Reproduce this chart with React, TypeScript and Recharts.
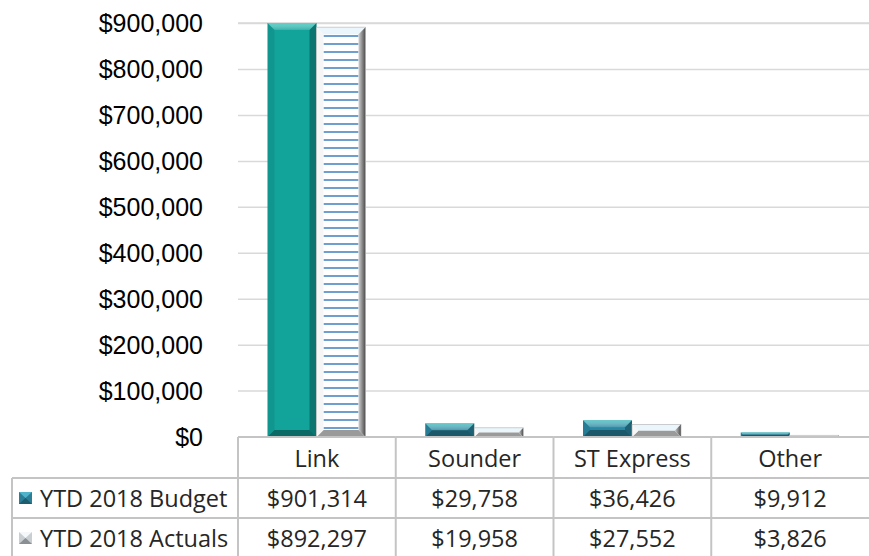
import React from "react";
import { Bar, BarChart, CartesianGrid, Cell, XAxis, YAxis } from "recharts";

const categories = ["Link", "Sounder", "ST Express", "Other"];
const budget = [901314, 29758, 36426, 9912];
const actuals = [892297, 19958, 27552, 3826];
const seriesNames = ["YTD 2018 Budget", "YTD 2018 Actuals"];
const yTicks = [0, 100000, 200000, 300000, 400000, 500000, 600000, 700000, 800000, 900000];

const data = categories.map((name, i) => ({ name, budget: budget[i], actuals: actuals[i] }));

const W = 869;
const H = 556;
const AXIS_W = 238;
const X_AXIS_H = 119;
const TABLE_TOP = H - X_AXIS_H;
const BAND = (W - AXIS_W) / categories.length;
const ROW1 = TABLE_TOP + 41;
const ROW2 = TABLE_TOP + 81;
const BORDER = "#c4c4c4";
const TABLE_FONT = "'Open Sans', sans-serif";

const money = (v: number) => "$" + v.toLocaleString("en-US");

const budgetColors = ["#12a39b", "#2a87a1", "#2a87a1", "#2a87a1"];

function BudgetShape(props: any) {
  const { x, y, width: w, height: h, index } = props;
  if (!h || h <= 0) return null;
  const b = Math.min(7, h / 2, w / 2);
  const face = budgetColors[index] || budgetColors[1];
  return (
    <g>
      <rect x={x} y={y} width={w} height={h} fill={face} />
      <polygon points={`${x},${y} ${x + w},${y} ${x + w - b},${y + b} ${x + b},${y + b}`} fill="url(#budTop)" />
      <polygon points={`${x + w},${y} ${x + w},${y + h} ${x + w - b},${y + h - b} ${x + w - b},${y + b}`} fill="#000" fillOpacity={0.28} />
      <polygon points={`${x},${y + h} ${x + w},${y + h} ${x + w - b},${y + h - b} ${x + b},${y + h - b}`} fill="#000" fillOpacity={0.35} />
      <polygon points={`${x},${y} ${x + b},${y + b} ${x + b},${y + h - b} ${x},${y + h}`} fill="#000" fillOpacity={0.08} />
    </g>
  );
}

function ActualShape(props: any) {
  const { x, y, width: w, height: h } = props;
  if (!h || h <= 0) return null;
  const b = Math.min(7, h / 2, w / 2);
  return (
    <g>
      <rect x={x} y={y} width={w} height={h} fill="#ffffff" />
      <rect x={x + b} y={y + b} width={Math.max(0, w - 2 * b)} height={Math.max(0, h - 2 * b)} fill="url(#stripes)" />
      <polygon points={`${x},${y} ${x + w},${y} ${x + w - b},${y + b} ${x + b},${y + b}`} fill="#eaf6fb" />
      <polygon points={`${x + w},${y} ${x + w},${y + h} ${x + w - b},${y + h - b} ${x + w - b},${y + b}`} fill="url(#actRight)" />
      <polygon points={`${x},${y + h} ${x + w},${y + h} ${x + w - b},${y + h - b} ${x + b},${y + h - b}`} fill="#9a9a9a" />
      <polygon points={`${x},${y} ${x + b},${y + b} ${x + b},${y + h - b} ${x},${y + h}`} fill="#f6f6f6" />
      <rect x={x} y={y} width={w} height={h} fill="none" stroke="#b0b0b0" strokeWidth={0.6} />
    </g>
  );
}

function TableTick(props: any) {
  const { x, payload } = props;
  const i = payload?.index ?? props.index ?? 0;
  const left = x - BAND / 2;
  const right = x + BAND / 2;
  const textStyle = { fontFamily: TABLE_FONT, fontSize: 23.5, fill: "#262626" };
  return (
    <g>
      <line x1={left} y1={TABLE_TOP} x2={left} y2={H} stroke={BORDER} strokeWidth={2} />
      <line x1={left} y1={TABLE_TOP} x2={right} y2={TABLE_TOP} stroke={BORDER} strokeWidth={2} />
      <line x1={left} y1={ROW1} x2={right} y2={ROW1} stroke={BORDER} strokeWidth={2} />
      <line x1={left} y1={ROW2} x2={right} y2={ROW2} stroke={BORDER} strokeWidth={2} />
      <text x={x} y={TABLE_TOP + 21} textAnchor="middle" dominantBaseline="central" {...textStyle}>
        {categories[i]}
      </text>
      <text x={x} y={ROW1 + 20} textAnchor="middle" dominantBaseline="central" {...textStyle}>
        {money(budget[i])}
      </text>
      <text x={x} y={ROW2 + 20} textAnchor="middle" dominantBaseline="central" {...textStyle}>
        {money(actuals[i])}
      </text>
      {i === 0 && (
        <g>
          <line x1={12} y1={ROW1} x2={left} y2={ROW1} stroke={BORDER} strokeWidth={2} />
          <line x1={12} y1={ROW2} x2={left} y2={ROW2} stroke={BORDER} strokeWidth={2} />
          <line x1={12} y1={ROW1} x2={12} y2={H} stroke={BORDER} strokeWidth={2} />
          <g>
            <rect x={19} y={ROW1 + 14} width={13} height={12} fill="#2a7f96" />
            <polygon points={`19,${ROW1 + 14} 32,${ROW1 + 14} 25.5,${ROW1 + 20}`} fill="#4fb3c9" />
            <polygon points={`19,${ROW1 + 26} 32,${ROW1 + 26} 25.5,${ROW1 + 20}`} fill="#1c5d6e" />
          </g>
          <text x={40} y={ROW1 + 20} dominantBaseline="central" {...textStyle}>
            {seriesNames[0]}
          </text>
          <g>
            <rect x={19} y={ROW2 + 14} width={13} height={12} fill="#c9ced3" />
            <polygon points={`19,${ROW2 + 14} 32,${ROW2 + 14} 25.5,${ROW2 + 20}`} fill="#f4f8fb" />
            <polygon points={`19,${ROW2 + 26} 32,${ROW2 + 26} 25.5,${ROW2 + 20}`} fill="#8a8f94" />
          </g>
          <text x={40} y={ROW2 + 20} dominantBaseline="central" {...textStyle}>
            {seriesNames[1]}
          </text>
        </g>
      )}
    </g>
  );
}

export default function App() {
  return (
    <div style={{ width: W, height: H, background: "#fff" }}>
      <style>{"body{margin:0}"}</style>
      <BarChart
        width={W}
        height={H}
        data={data}
        margin={{ top: 23, right: 0, bottom: 0, left: 0 }}
        barCategoryGap="18.7%"
        barGap={0}
      >
        <defs>
          <linearGradient id="budTop" x1="0" y1="0" x2="0" y2="1">
            <stop offset="0%" stopColor="#6fe0d6" stopOpacity={0.75} />
            <stop offset="100%" stopColor="#ffffff" stopOpacity={0.15} />
          </linearGradient>
          <linearGradient id="actRight" x1="0" y1="0" x2="1" y2="0">
            <stop offset="0%" stopColor="#d0d0d0" />
            <stop offset="100%" stopColor="#4a4a4a" />
          </linearGradient>
          <pattern id="stripes" patternUnits="userSpaceOnUse" width={8} height={8}>
            <rect x={0} y={0} width={8} height={8} fill="#ffffff" />
            <rect x={0} y={3} width={8} height={2} fill="#6f9fcc" />
          </pattern>
        </defs>
        <CartesianGrid vertical={false} stroke="#d9d9d9" strokeWidth={1.5} />
        <XAxis
          dataKey="name"
          height={X_AXIS_H}
          axisLine={false}
          tickLine={false}
          interval={0}
          tick={<TableTick />}
        />
        <YAxis
          width={AXIS_W}
          domain={[0, "dataMax"]}
          ticks={yTicks}
          axisLine={false}
          tickLine={false}
          tickSize={0}
          tickMargin={35}
          tickFormatter={money}
          tick={{ fill: "#000", fontSize: 25, fontFamily: "'Liberation Sans', Arial, sans-serif" }}
        />
        <Bar dataKey="budget" name={seriesNames[0]} shape={<BudgetShape />} isAnimationActive={false}>
          {data.map((d, i) => (
            <Cell key={d.name} fill={budgetColors[i]} />
          ))}
        </Bar>
        <Bar dataKey="actuals" name={seriesNames[1]} shape={<ActualShape />} isAnimationActive={false} />
      </BarChart>
    </div>
  );
}
